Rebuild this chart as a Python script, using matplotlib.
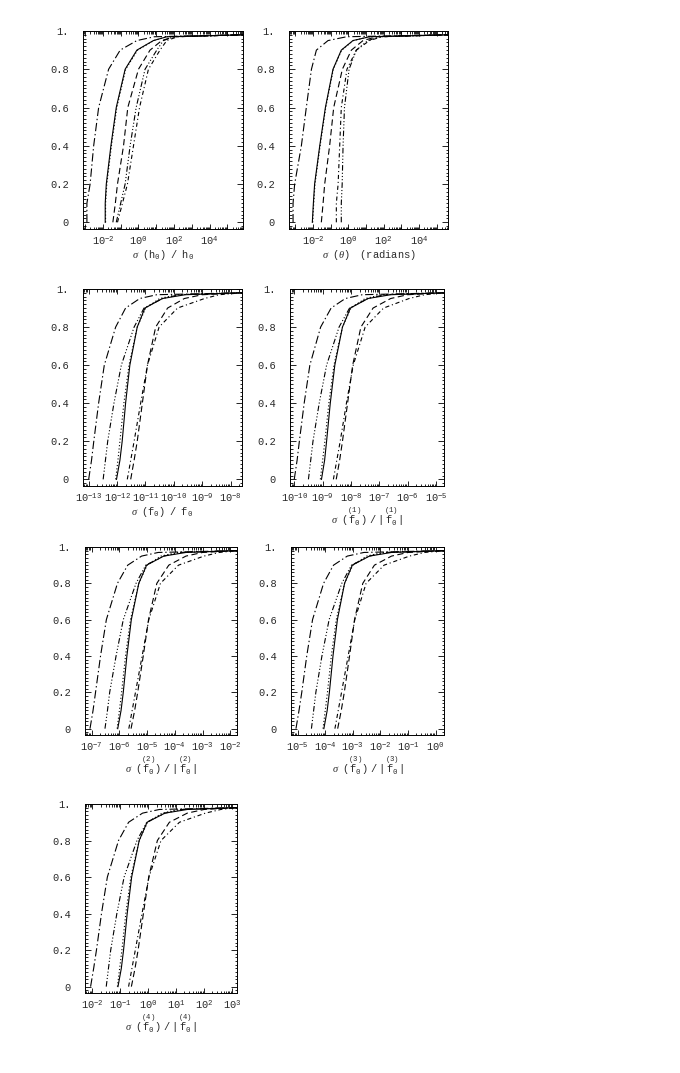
import matplotlib
matplotlib.use("Agg")
import matplotlib.pyplot as plt
import numpy as np
from matplotlib.ticker import (FixedLocator, FixedFormatter, LogLocator,
                               MultipleLocator, NullFormatter, FuncFormatter)

plt.rcParams.update({
    "font.family": "Liberation Mono",
    "mathtext.fontset": "custom",
    "mathtext.rm": "Liberation Mono",
    "mathtext.it": "Liberation Serif:italic",
    "mathtext.bf": "Liberation Mono:bold",
    "lines.scale_dashes": False,
})

# cumulative fraction levels shared by all curves
cdf_levels = [0, 0.1, 0.2, 0.4, 0.6, 0.8, 0.9, 0.95, 0.97, 0.98]

# log10 of the error at each cumulative level; six curves per panel
# order: A dash-dot, B dash-dot-dot-dot, C dotted, D solid, E dashed, F dash-dot (short)
h0_err = [
    [-2.90, -2.90, -2.72, -2.52, -2.24, -1.68, -1.03, -0.09, 0.90, 5.88],
    [-1.25, -1.00, -0.75, -0.47, -0.13, 0.37, 1.03, 1.40, 2.00, 5.88],
    [-1.85, -1.85, -1.78, -1.52, -1.22, -0.72, -0.05, 0.86, 1.60, 5.88],
    [-1.87, -1.87, -1.81, -1.55, -1.25, -0.75, -0.09, 0.84, 1.60, 5.88],
    [-1.44, -1.30, -1.18, -0.84, -0.60, 0.00, 0.65, 1.31, 2.00, 5.88],
    [-1.18, -0.90, -0.62, -0.28, 0.06, 0.56, 1.21, 1.59, 2.20, 5.88],
]
theta_err = [
    [-3.13, -3.13, -3.04, -2.66, -2.38, -2.09, -1.81, -1.15, -0.10, 5.64],
    [-0.40, -0.40, -0.35, -0.30, -0.22, 0.04, 0.45, 1.10, 1.80, 5.64],
    [-2.02, -1.96, -1.89, -1.60, -1.28, -0.85, -0.38, 0.28, 1.20, 5.64],
    [-2.04, -1.98, -1.91, -1.62, -1.30, -0.87, -0.40, 0.26, 1.20, 5.64],
    [-1.53, -1.43, -1.34, -1.06, -0.83, -0.34, 0.17, 0.83, 1.60, 5.64],
    [-0.68, -0.68, -0.58, -0.49, -0.40, -0.08, 0.45, 1.20, 1.90, 5.64],
]
f0_err = [
    [-13.00, -12.90, -12.82, -12.65, -12.45, -12.05, -11.70, -11.20, -10.60, -7.60],
    [-12.49, -12.41, -12.33, -12.11, -11.85, -11.40, -11.05, -10.40, -9.80, -7.60],
    [-12.05, -11.97, -11.90, -11.76, -11.58, -11.29, -10.99, -10.50, -9.90, -7.60],
    [-12.02, -11.90, -11.82, -11.70, -11.55, -11.29, -11.02, -10.40, -9.60, -7.60],
    [-11.52, -11.40, -11.29, -11.11, -10.93, -10.64, -10.22, -9.63, -9.00, -7.60],
    [-11.64, -11.52, -11.40, -11.17, -10.93, -10.52, -9.87, -8.92, -8.40, -7.60],
]
f1_err = [
    [-10.00, -9.90, -9.82, -9.65, -9.45, -9.07, -8.70, -8.20, -7.60, -4.72],
    [-9.50, -9.42, -9.34, -9.12, -8.86, -8.42, -8.05, -7.40, -6.80, -4.72],
    [-9.08, -9.00, -8.92, -8.78, -8.60, -8.30, -8.00, -7.50, -6.90, -4.72],
    [-9.04, -8.93, -8.86, -8.73, -8.57, -8.30, -8.02, -7.40, -6.60, -4.72],
    [-8.52, -8.40, -8.30, -8.12, -7.94, -7.65, -7.22, -6.60, -6.00, -4.72],
    [-8.62, -8.50, -8.38, -8.16, -7.92, -7.50, -6.85, -5.95, -5.40, -4.72],
]
f2_err = [
    [-7.06, -6.95, -6.86, -6.68, -6.47, -6.07, -5.70, -5.20, -4.60, -1.76],
    [-6.52, -6.43, -6.35, -6.12, -5.86, -5.40, -5.05, -4.40, -3.80, -1.76],
    [-6.08, -6.00, -5.92, -5.78, -5.60, -5.30, -5.00, -4.50, -3.90, -1.76],
    [-6.06, -5.94, -5.86, -5.73, -5.57, -5.30, -5.02, -4.40, -3.60, -1.76],
    [-5.58, -5.45, -5.34, -5.14, -4.95, -4.65, -4.22, -3.60, -3.00, -1.76],
    [-5.66, -5.54, -5.42, -5.18, -4.94, -4.52, -3.87, -2.95, -2.40, -1.76],
]
f3_err = [
    [-5.06, -4.95, -4.85, -4.67, -4.46, -4.06, -3.70, -3.20, -2.60, 0.30],
    [-4.50, -4.42, -4.34, -4.12, -3.86, -3.40, -3.05, -2.40, -1.80, 0.30],
    [-4.08, -4.00, -3.92, -3.78, -3.60, -3.30, -3.00, -2.50, -1.90, 0.30],
    [-4.05, -3.93, -3.85, -3.72, -3.56, -3.30, -3.02, -2.40, -1.60, 0.30],
    [-3.55, -3.42, -3.31, -3.12, -2.94, -2.64, -2.22, -1.60, -1.00, 0.30],
    [-3.65, -3.53, -3.41, -3.17, -2.93, -2.52, -1.87, -0.95, -0.40, 0.30],
]
f4_err = [
    [-2.06, -1.95, -1.85, -1.67, -1.46, -1.06, -0.70, -0.20, 0.40, 3.18],
    [-1.50, -1.42, -1.34, -1.12, -0.86, -0.40, -0.05, 0.60, 1.20, 3.18],
    [-1.10, -1.02, -0.94, -0.80, -0.62, -0.32, -0.02, 0.50, 1.10, 3.18],
    [-1.08, -0.96, -0.88, -0.75, -0.59, -0.32, -0.04, 0.60, 1.40, 3.18],
    [-0.60, -0.47, -0.36, -0.17, 0.02, 0.33, 0.76, 1.40, 2.00, 3.18],
    [-0.70, -0.58, -0.46, -0.22, 0.03, 0.46, 1.12, 2.05, 2.60, 3.18],
]

# x-axis ranges (log10) and labelled exponents per panel
xlims = [(-3.12, 5.88), (-3.36, 5.64), (-13.2, -7.6), (-10.15, -4.72),
         (-7.24, -1.76), (-5.24, 0.30), (-2.26, 3.18)]
labelled_exps = [[-2, 0, 2, 4], [-2, 0, 2, 4],
                 [-13, -12, -11, -10, -9, -8], [-10, -9, -8, -7, -6, -5],
                 [-7, -6, -5, -4, -3, -2], [-5, -4, -3, -2, -1, 0],
                 [-2, -1, 0, 1, 2, 3]]
xlabels = [
    r"$\sigma\ \ (\mathrm{h}_0)\ \ /\ \ \mathrm{h}_0$",
    r"$\sigma\ \ (\theta)\ \ \ \ (\mathrm{radians})$",
    r"$\sigma\ \ (\mathrm{f}_0)\ \ /\ \ \mathrm{f}_0$",
    r"$\sigma\ \ (\overset{(1)}{\mathrm{f}_0})\ /\ |\overset{(1)}{\mathrm{f}_0}|$",
    r"$\sigma\ \ (\overset{(2)}{\mathrm{f}_0})\ /\ |\overset{(2)}{\mathrm{f}_0}|$",
    r"$\sigma\ \ (\overset{(3)}{\mathrm{f}_0})\ /\ |\overset{(3)}{\mathrm{f}_0}|$",
    r"$\sigma\ \ (\overset{(4)}{\mathrm{f}_0})\ /\ |\overset{(4)}{\mathrm{f}_0}|$",
]
ytick_vals = [0, 0.2, 0.4, 0.6, 0.8, 1.0]
ytick_text = ["0", "0.2", "0.4", "0.6", "0.8", "1."]

panels_data = [h0_err, theta_err, f0_err, f1_err, f2_err, f3_err, f4_err]

line_styles = [
    (0, (6, 2, 1, 2)),
    (0, (4, 1.5, 0.8, 1.5, 0.8, 1.5, 0.8, 1.5)),
    (0, (0.8, 1.6)),
    "-",
    (0, (4.5, 2.5)),
    (0, (3, 2, 0.8, 2)),
]

W, H = 680, 1073
boxes = [  # x0, x1, y0, y1 in pixels (top-down)
    (83, 243, 31, 229), (289, 448, 31, 229),
    (83, 242, 289, 486), (290, 444, 289, 486),
    (85, 237, 547, 735), (291, 444, 547, 735),
    (85, 237, 804, 993),
]

fig = plt.figure(figsize=(W / 100, H / 100), dpi=100)
TXT = "#2a2a2a"

for i, (data, box) in enumerate(zip(panels_data, boxes)):
    x0, x1, y0, y1 = box
    ax = fig.add_axes([x0 / W, 1 - y1 / H, (x1 - x0) / W, (y1 - y0) / H])
    ax.set_xscale("log")
    for series, ls in zip(data, line_styles):
        ax.plot(10.0 ** np.array(series), cdf_levels, color="black",
                lw=0.8, linestyle=ls)
    lo, hi = xlims[i]
    ax.set_xlim(10.0 ** lo, 10.0 ** hi)
    ax.set_ylim(-0.035, 1.0)

    exps = labelled_exps[i]
    ax.xaxis.set_major_locator(LogLocator(base=10, numticks=40))
    ax.xaxis.set_minor_locator(LogLocator(base=10, subs=np.arange(2, 10), numticks=40))
    ax.xaxis.set_minor_formatter(NullFormatter())

    def fmt(v, pos, exps=exps):
        e = int(np.round(np.log10(v)))
        return r"$10^{%d}$" % e if e in exps else ""
    ax.xaxis.set_major_formatter(FuncFormatter(fmt))

    ax.yaxis.set_major_locator(FixedLocator(ytick_vals))
    ax.yaxis.set_major_formatter(FixedFormatter(ytick_text))
    ax.yaxis.set_minor_locator(MultipleLocator(0.02))

    ax.tick_params(which="both", direction="in", top=True, right=True,
                   width=0.6, colors="black", labelcolor=TXT, labelsize=7.5)
    ax.tick_params(axis="x", which="major", length=3.5, pad=4)
    ax.tick_params(axis="x", which="minor", length=1.8)
    ax.tick_params(axis="y", which="major", length=4, pad=10)
    ax.tick_params(axis="y", which="minor", length=1.8)
    for sp in ax.spines.values():
        sp.set_linewidth(0.7)
    ax.set_xlabel(xlabels[i], fontsize=7.5, color=TXT, labelpad=0.5)

fig.savefig("out.png", dpi=100)
